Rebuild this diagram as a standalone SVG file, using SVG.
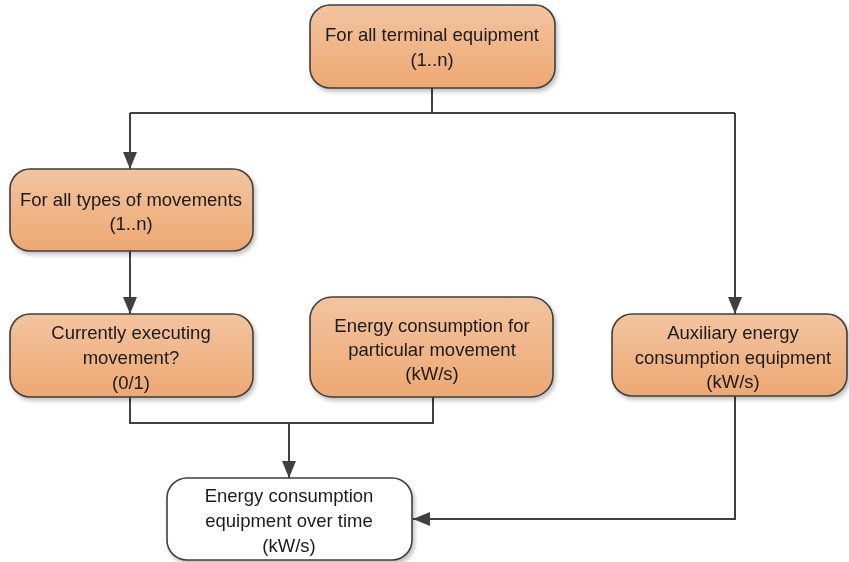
<svg xmlns="http://www.w3.org/2000/svg" width="849" height="562" viewBox="0 0 849 562">
<style>
.n{stroke:#3f3f3f;stroke-width:1.6;fill:url(#g)}
.w{stroke:#3f3f3f;stroke-width:1.6;fill:#fff}
.t{font-family:"Liberation Sans",Arial,sans-serif;font-size:18.5px;fill:#1a1a1a;text-anchor:middle}
.c{fill:none;stroke:#404040;stroke-width:2}
</style>
<defs>
<linearGradient id="g" x1="0" y1="0" x2="0" y2="1">
<stop offset="0" stop-color="#f3c4a0"/>
<stop offset="1" stop-color="#eda872"/>
</linearGradient>
<filter id="s" x="-10%" y="-10%" width="130%" height="140%">
<feGaussianBlur in="SourceAlpha" stdDeviation="2"/>
<feOffset dx="2" dy="3"/>
<feComponentTransfer><feFuncA type="linear" slope="0.25"/></feComponentTransfer>
<feMerge><feMergeNode/><feMergeNode in="SourceGraphic"/></feMerge>
</filter>
<marker id="a" markerWidth="17" markerHeight="14" refX="17" refY="7" orient="auto" markerUnits="userSpaceOnUse">
<path d="M0,0 L17,7 L0,14 Z" fill="#404040"/>
</marker>
</defs>
<g id="connectors">
<path class="c" d="M432,88 V113"/>
<path class="c" d="M130,113 H735"/>
<path class="c" d="M130,113 V169" marker-end="url(#a)"/>
<path class="c" d="M735,113 V314" marker-end="url(#a)"/>
<path class="c" d="M130,251 V314" marker-end="url(#a)"/>
<path class="c" d="M130,397 V423 H433 V397"/>
<path class="c" d="M289,423 V478" marker-end="url(#a)"/>
<path class="c" d="M735,396 V519 H413" marker-end="url(#a)"/>
</g>
<g id="n1" filter="url(#s)">
<rect class="n" x="310" y="5" width="245" height="83" rx="20"/>
<text class="t" x="432" y="41">For all terminal equipment</text>
<text class="t" x="432" y="66">(1..n)</text>
</g>
<g id="n2" filter="url(#s)">
<rect class="n" x="10" y="169" width="243" height="82" rx="20"/>
<text class="t" x="131" y="206">For all types of movements</text>
<text class="t" x="131" y="230">(1..n)</text>
</g>
<g id="n3" filter="url(#s)">
<rect class="n" x="10" y="314" width="243" height="83" rx="20"/>
<text class="t" x="131" y="339">Currently executing</text>
<text class="t" x="131" y="364">movement?</text>
<text class="t" x="131" y="389">(0/1)</text>
</g>
<g id="n4" filter="url(#s)">
<rect class="n" x="310" y="297" width="243" height="100" rx="22"/>
<text class="t" x="432" y="332">Energy consumption for</text>
<text class="t" x="432" y="356">particular movement</text>
<text class="t" x="432" y="380">(kW/s)</text>
</g>
<g id="n6" filter="url(#s)">
<rect class="n" x="612" y="314" width="235" height="82" rx="20"/>
<text class="t" x="733" y="339">Auxiliary energy</text>
<text class="t" x="733" y="364">consumption equipment</text>
<text class="t" x="733" y="388">(kW/s)</text>
</g>
<g id="n5" filter="url(#s)">
<rect class="w" x="167" y="478" width="245" height="82" rx="20"/>
<text class="t" x="289" y="502">Energy consumption</text>
<text class="t" x="289" y="527">equipment over time</text>
<text class="t" x="289" y="552">(kW/s)</text>
</g>
</svg>
